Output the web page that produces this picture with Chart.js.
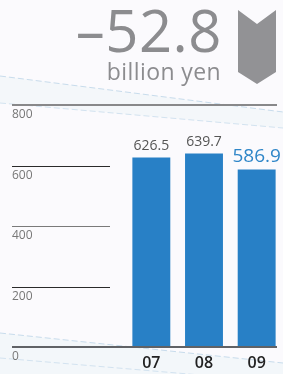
<!DOCTYPE html>
<html>
<head>
<meta charset="utf-8">
<script src="https://cdn.jsdelivr.net/npm/chart.js@4/dist/chart.umd.min.js"></script>
<style>
  html, body { margin: 0; padding: 0; }
  body { width: 283px; height: 374px; position: relative; overflow: hidden; background: #fbfafd; font-family: "Open Sans", sans-serif; }
  #bg { position: absolute; left: 0; top: 0; }
  #wrap { position: absolute; left: 0; top: 0; width: 283px; height: 374px; }
  .big { position: absolute; right: 61px; top: 1px; font-size: 58px; letter-spacing: 0.5px; line-height: 1; color: #8c8c8f; white-space: nowrap; }
  .unit { position: absolute; right: 62px; top: 60px; font-size: 23px; letter-spacing: 0.4px; line-height: 1; color: #8c8c8f; white-space: nowrap; }
  #arrow { position: absolute; left: 0; top: 0; }
</style>
</head>
<body>
<svg id="bg" width="283" height="374">
  <polygon points="0,76 283,112 283,128 0,103" fill="#f4f7fa"/>
  <polygon points="0,333 283,363 283,374 0,374" fill="#f3f7fa"/>
  <line x1="0" y1="76" x2="283" y2="112" stroke="#c8dcec" stroke-width="1" stroke-dasharray="6,3"/>
  <line x1="0" y1="103" x2="283" y2="128" stroke="#d3e3f0" stroke-width="1" stroke-dasharray="6,3"/>
  <line x1="0" y1="333" x2="283" y2="363" stroke="#c8dcec" stroke-width="1" stroke-dasharray="6,3"/>
  <line x1="0" y1="358" x2="283" y2="382" stroke="#d3e3f0" stroke-width="1" stroke-dasharray="6,3"/>
</svg>
<div id="wrap"><canvas id="c" width="283" height="374"></canvas></div>
<div class="big">–52.8</div>
<div class="unit">billion yen</div>
<svg id="arrow" width="283" height="100">
  <polygon points="238,10 257,24 276,10 276,72 257,84 238,72" fill="#929295"/>
</svg>
<script>
const categories = ["07", "08", "09"];
const values = [626.5, 639.7, 586.9];
const valueLabels = ["626.5", "639.7", "586.9"];
const yTicks = [0, 200, 400, 600, 800];

const linesPlugin = {
  id: 'hlines',
  beforeDatasetsDraw(chart) {
    const y = chart.scales.y, ctx = chart.ctx;
    ctx.save();
    yTicks.forEach(v => {
      if (v === 0) return;
      const py = Math.round(y.getPixelForValue(v));
      ctx.beginPath();
      if (v === 800) {
        ctx.strokeStyle = '#88888a'; ctx.lineWidth = 2;
        ctx.moveTo(12, py); ctx.lineTo(277, py);
      } else {
        ctx.strokeStyle = v === 400 ? '#7a7a7a' : '#2a2a2a'; ctx.lineWidth = 1;
        ctx.moveTo(12, py + 0.5); ctx.lineTo(110, py + 0.5);
      }
      ctx.stroke();
    });
    ctx.restore();
  },
  afterDatasetsDraw(chart) {
    const y = chart.scales.y, ctx = chart.ctx;
    ctx.save();
    const py = Math.round(y.getPixelForValue(0));
    ctx.beginPath();
    ctx.strokeStyle = '#606266'; ctx.lineWidth = 2;
    ctx.moveTo(12, py); ctx.lineTo(277, py);
    ctx.stroke();
    const meta = chart.getDatasetMeta(0);
    ctx.textAlign = 'center';
    ctx.textBaseline = 'alphabetic';
    meta.data.forEach((bar, i) => {
      const last = i === meta.data.length - 1;
      ctx.font = (last ? '19px' : '14px') + ' "Open Sans", sans-serif';
      ctx.fillStyle = last ? '#2f86c8' : '#555555';
      ctx.fillText(valueLabels[i], bar.x, bar.y - 7);
    });
    ctx.restore();
  }
};

new Chart(document.getElementById('c'), {
  type: 'bar',
  data: {
    labels: categories,
    datasets: [{
      data: values,
      backgroundColor: '#2880c6',
      borderWidth: 0,
      categoryPercentage: 1,
      barPercentage: 0.72
    }]
  },
  options: {
    responsive: false,
    animation: false,
    devicePixelRatio: 1,
    layout: { padding: { left: 12, right: 0, top: 105, bottom: 6 } },
    plugins: { legend: { display: false }, tooltip: { enabled: false } },
    scales: {
      x: {
        afterFit(scale) { scale.height = 21; },
        grid: { display: false, drawTicks: false },
        border: { display: false },
        ticks: { color: '#222', font: { family: 'Open Sans', size: 16, weight: '600' }, padding: 7 }
      },
      y: {
        min: 0, max: 800,
        afterBuildTicks(scale) { scale.ticks = yTicks.map(v => ({ value: v })); },
        afterFit(scale) { scale.width = 113; },
        grid: { display: false, drawTicks: false },
        border: { display: false },
        ticks: { color: '#777', crossAlign: 'far', labelOffset: 10, padding: 0,
                 font: { family: 'Open Sans', size: 12 } }
      }
    }
  },
  plugins: [linesPlugin]
});
</script>
</body>
</html>
